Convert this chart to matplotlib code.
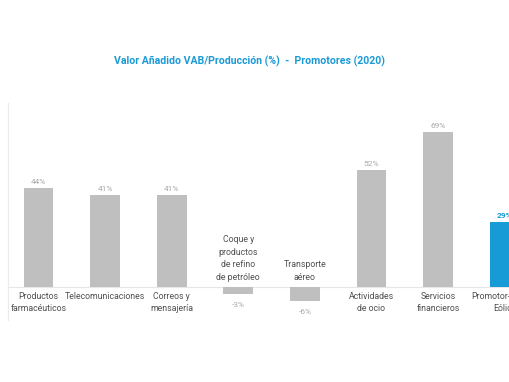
import matplotlib.pyplot as plt

# Datos
categorias = ['Productos\nfarmacéuticos', 'Telecomunicaciones', 'Correos y\nmensajería',
              'Coque y\nproductos\nde refino\nde petróleo', 'Transporte\naéreo',
              'Actividades\nde ocio', 'Servicios\nfinancieros', 'Promotor-Parque\nEólico']
valores = [44, 41, 41, -3, -6, 52, 69, 29]
etiquetas = ['44%', '41%', '41%', '-3%', '-6%', '52%', '69%', '29%']

gris = '#bfbfbf'
azul = '#179bd7'
colores = [gris] * 7 + [azul]

plt.rcParams['font.family'] = ['Roboto', 'DejaVu Sans']

fig = plt.figure(figsize=(5.1, 3.82), dpi=100)
W, H = 510, 382
# axes reaches past the right edge so the last bar is cut like the reference
ax = fig.add_axes([8 / W, 62 / H, 552 / W, 217 / H])

x = list(range(len(valores)))
ax.bar(x, valores, width=0.45, color=colores, zorder=2)
ax.axhline(0, color='#e6e6e6', linewidth=0.8, zorder=1)

px = 2.25  # pixels per unit
ax.set_ylim(-(320 - 287) / px, (287 - 103) / px)
ax.set_xlim((8 - 38.5) / 66.6, (560 - 38.5) / 66.6)

for i, v in enumerate(valores):
    es_azul = i == len(valores) - 1
    if v >= 0:
        ax.text(i, v + 1.3, etiquetas[i], ha='center', va='bottom', fontsize=6,
                color=azul if es_azul else '#a9a9a9', fontweight='bold' if es_azul else 'normal')
        ax.text(i, -2.2, categorias[i], ha='center', va='top', fontsize=6.3,
                color='#505050', linespacing=1.5)
    else:
        ax.text(i, v - 3.6, etiquetas[i], ha='center', va='top', fontsize=6, color='#a9a9a9')
        ax.text(i, 2.3, categorias[i], ha='center', va='bottom', fontsize=6.3,
                color='#505050', linespacing=1.5)

for s in ['top', 'right', 'bottom']:
    ax.spines[s].set_visible(False)
ax.spines['left'].set_color('#ececec')
ax.set_xticks([])
ax.set_yticks([])

fig.text(250 / W, 1 - 61 / H, 'Valor Añadido VAB/Producción (%)  -  Promotores (2020)',
         ha='center', va='center', fontsize=7.6, color='#1a9ad6', fontweight='bold')

fig.savefig('out.png', dpi=100)
